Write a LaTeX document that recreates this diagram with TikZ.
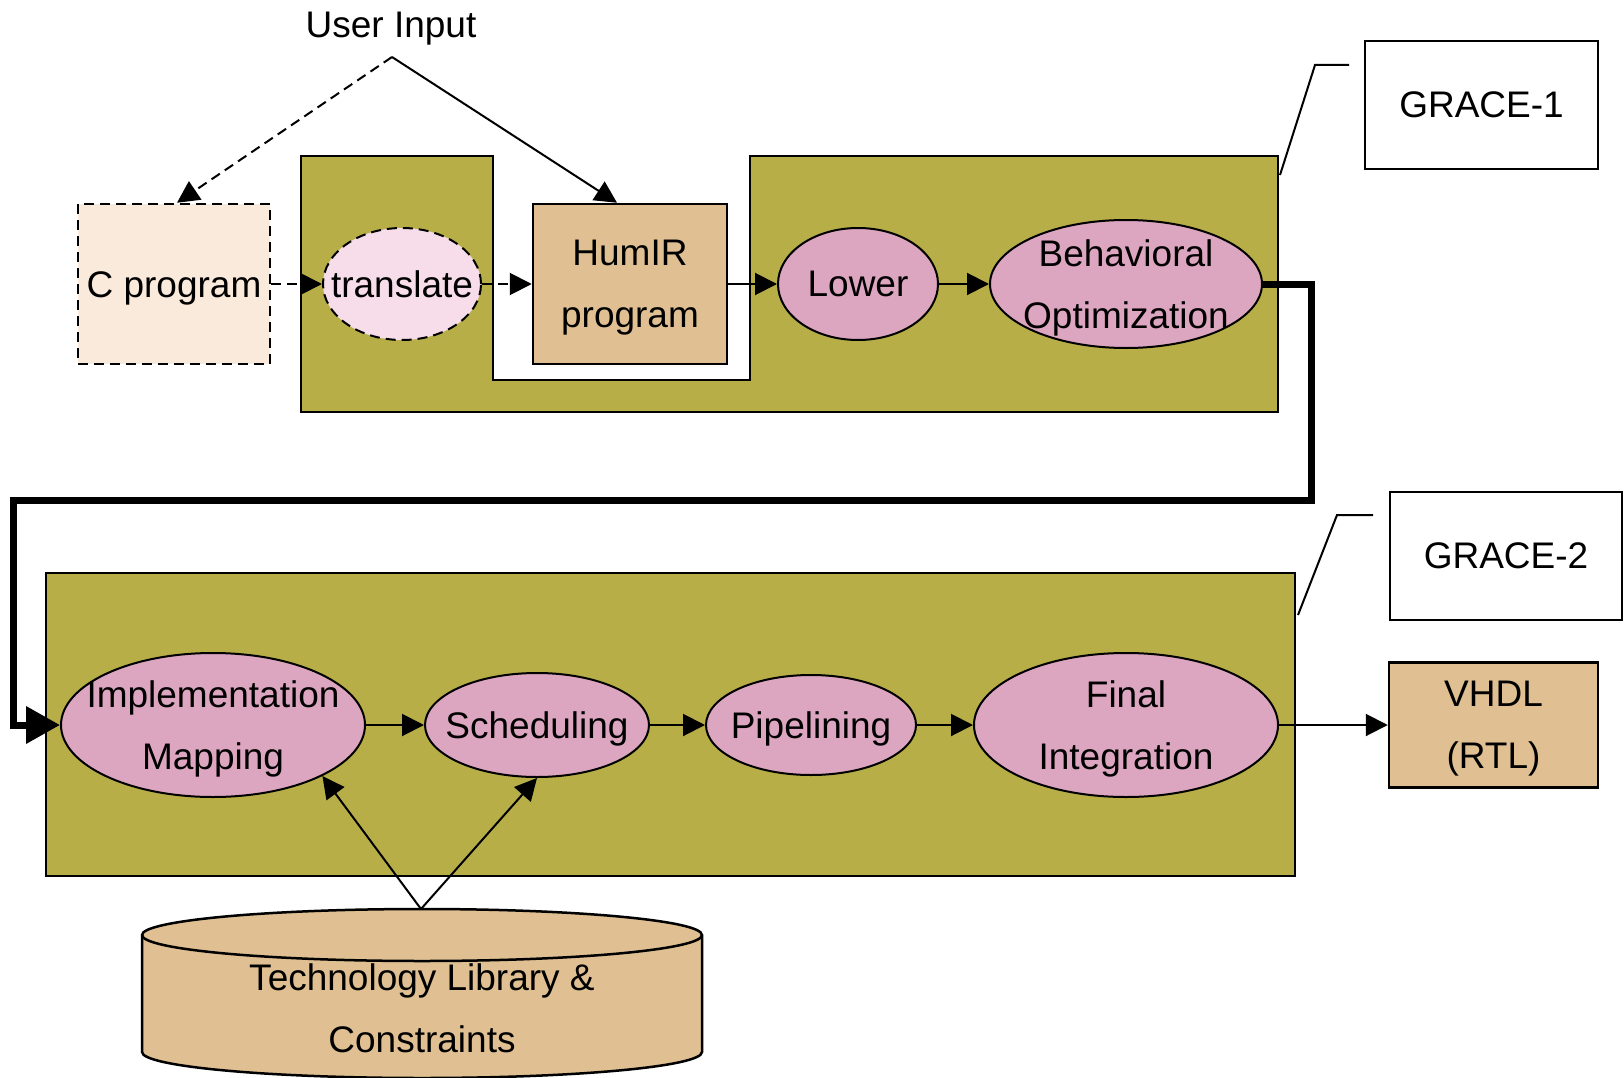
\documentclass[tikz,border=0pt]{standalone}
\usepackage{fontspec}
\setmainfont{Liberation Sans}
\usetikzlibrary{arrows.meta,shapes.geometric}
\definecolor{gracefill}{HTML}{B8AE48}
\definecolor{procpink}{HTML}{DDA6C0}
\definecolor{filetan}{HTML}{E0C092}
\definecolor{palepeach}{HTML}{FAEADC}
\definecolor{palepink}{HTML}{F6DDE9}
\begin{document}
\begin{tikzpicture}[x=1pt,y=-1pt,
  every node/.style={font=\fontsize{37}{62}\selectfont, align=center, inner sep=0pt},
  proc/.style={ellipse, draw, line width=2pt, fill=procpink},
  filebox/.style={rectangle, draw, line width=2.5pt, fill=filetan},
  tagbox/.style={rectangle, draw, line width=2.5pt, fill=white},
  container/.style={draw, line width=2.5pt, fill=gracefill},
  lowtext/.style={yshift=-4pt},
  flow/.style={line width=2pt, -{Triangle[length=22pt,width=22pt]}},
  dashflow/.style={flow, dash pattern=on 10pt off 6pt},
  bigflow/.style={line width=7pt, -{Triangle[length=34pt,width=36pt]}},
  callout/.style={line width=2pt}]
\useasboundingbox (0,0) rectangle (1624,1078);

% GRACE-1 stage, with the notch that the HumIR program sits in
\draw[container] (301,156) -- (493,156) -- (493,380) -- (750,380) -- (750,156)
  -- (1278,156) -- (1278,412) -- (301,412) -- cycle;
% GRACE-2 stage
\draw[container] (46,573) rectangle (1295,876);

% stage tags and their callouts
\node[tagbox, minimum width=233pt, minimum height=128pt] (g1) at (1481.5,105) {GRACE-1};
\node[tagbox, minimum width=232pt, minimum height=128pt] (g2) at (1506,556) {GRACE-2};
\coordinate (g1a) at (1349,65);
\coordinate (g1b) at (1315,65);
\coordinate (g1c) at (1280,175);
\coordinate (g2a) at (1373,515);
\coordinate (g2b) at (1337,515);
\coordinate (g2c) at (1298,615);
\draw[callout] (g1a) -- (g1b) -- (g1c);
\draw[callout] (g2a) -- (g2b) -- (g2c);

% user input
\node[anchor=base] (ui) at (391,38) {User Input};
\coordinate (apex) at (392,57);

% GRACE-1 flow
\node[draw, line width=2.5pt, dash pattern=on 10pt off 6pt, fill=palepeach,
  minimum width=192pt, minimum height=160pt] (cprog) at (174,284) {};
\node[lowtext] (cprog-t) at (cprog) {C program};
\node[ellipse, draw, line width=2pt, dash pattern=on 10pt off 6pt, fill=palepink,
  minimum width=158pt, minimum height=112pt] (trans) at (402,284) {};
\node (trans-t) at (trans) {translate};
\node[filebox, minimum width=194pt, minimum height=160pt] (humir) at (630,284) {};
\node[lowtext] (humir-t) at (humir) {HumIR\\program};
\node[proc, minimum width=160pt, minimum height=112pt] (lower) at (858,284) {};
\node (lower-t) at (lower) {Lower};
\node[proc, minimum width=272pt, minimum height=128pt] (bo) at (1126,284) {};
\node[lowtext] (bo-t) at (bo) {Behavioral\\Optimization};

\draw[dashflow] (apex) -- ([xshift=3pt]cprog.north);
\draw[flow] (apex) -- ([xshift=-13pt]humir.north);
\draw[dashflow] (cprog.east) -- (trans.west);
\draw[dashflow] (trans.east) -- (humir.west);
\draw[flow] (humir.east) -- (lower.west);
\draw[flow] (lower.east) -- (bo.west);

% GRACE-2 flow
\node[proc, minimum width=304pt, minimum height=144pt] (im) at (213,725) {};
\node[lowtext] (im-t) at (im) {Implementation\\Mapping};
\node[proc, minimum width=224pt, minimum height=104pt] (sched) at (537,725) {};
\node[lowtext] (sched-t) at (sched) {Scheduling};
\node[proc, minimum width=210pt, minimum height=100pt] (pipe) at (811,725) {};
\node[lowtext] (pipe-t) at (pipe) {Pipelining};
\node[proc, minimum width=304pt, minimum height=144pt] (fi) at (1126,725) {};
\node[lowtext] (fi-t) at (fi) {Final\\Integration};
\node[filebox, minimum width=209pt, minimum height=125pt] (vhdl) at (1493.5,725) {};
\node[lowtext] (vhdl-t) at (vhdl) {VHDL\\(RTL)};

\draw[flow] (im.east) -- (sched.west);
\draw[flow] (sched.east) -- (pipe.west);
\draw[flow] (pipe.east) -- (fi.west);
\draw[flow] (fi.east) -- (vhdl.west);

% hand-over from GRACE-1 to GRACE-2
\coordinate (turn1) at (1311,500);
\coordinate (turn2) at (13,500);
\draw[bigflow] (bo.east) -| (turn1) -- (turn2) |- (im.west);

% technology library
\draw[line width=2.5pt, fill=filetan] (142,935) -- (142,1052)
  arc[start angle=180, end angle=0, x radius=280, y radius=26]
  -- (702,935) arc[start angle=360, end angle=180, x radius=280, y radius=26] -- cycle;
\draw[line width=2.5pt] (142,935) arc[start angle=180, end angle=0, x radius=280, y radius=26];
\node (lib) at (422,1008) {Technology Library \&\\Constraints};
\coordinate (libtop) at (421,909);
\draw[flow] (libtop) -- (im.-25);
\draw[flow] (libtop) -- (sched.south);
\end{tikzpicture}
\end{document}
